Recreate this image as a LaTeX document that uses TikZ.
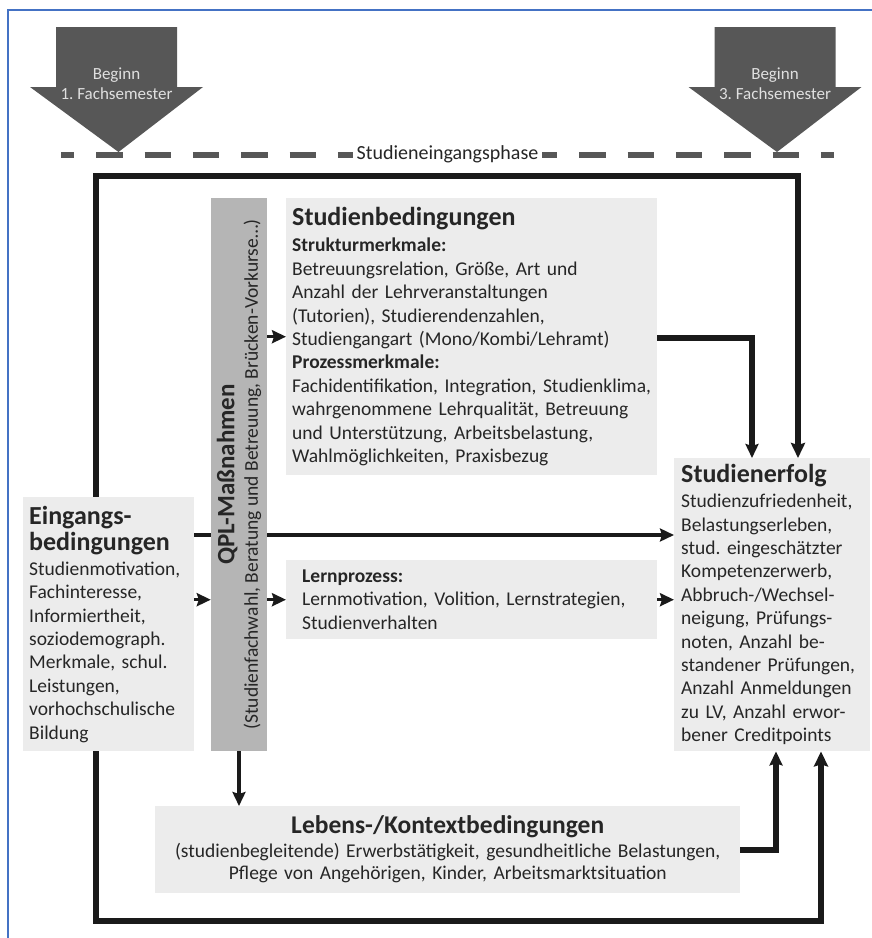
\documentclass[tikz,border=0pt]{standalone}
\usepackage{fontspec}
\setmainfont{Carlito}
\usepackage{tikz}
\usetikzlibrary{arrows.meta, backgrounds}

\definecolor{feldgrau}{HTML}{ECECEC}
\definecolor{qplgrau}{HTML}{B5B5B5}
\definecolor{dunkel}{HTML}{575757}
\definecolor{linie}{HTML}{1A1A1A}
\definecolor{schrift}{HTML}{262626}
\definecolor{rand}{HTML}{4472C4}

\newcommand{\titel}{\fontsize{26}{26}\selectfont\bfseries}
\newcommand{\fliess}{\fontsize{19.5}{23.4}\selectfont\hyphenpenalty=10000}
\frenchspacing

\begin{document}
\begin{tikzpicture}[x=1pt, y=-1pt,
    feld/.style={fill=feldgrau, text=schrift, anchor=north west, align=left, inner ysep=0pt, font=\fliess},
    pfeil/.style={draw=linie, line width=4pt, -{Stealth[length=14pt, width=13pt, inset=2pt]}},
    rahmen/.style={draw=linie, line width=6.5pt, {Stealth[length=15pt, width=14pt, inset=2pt]}-{Stealth[length=15pt, width=14pt, inset=2pt]}}]
\useasboundingbox (0,0) rectangle (872,938);

% screenshot border
\draw[rand, line width=1.5pt] (8,938) -- (8,10) -- (872,10);

% Beginn arrows
\foreach \mx/\sem in {116.5/1, 775/3} {
    \fill[dunkel] (\mx-60.5,27) -- (\mx+60.5,27) -- (\mx+60.5,87) -- (\mx+86.5,87)
        -- (\mx+2,152) -- (\mx-86.5,87) -- (\mx-60.5,87) -- cycle;
    \node[text=white!88!black, align=center, font=\fontsize{17}{20}\selectfont] (beginn\sem) at (\mx,84) {Beginn\\\sem. Fachsemester};
}

% Studieneingangsphase
\draw[dunkel, line width=6pt, dash pattern=on 26.3pt off 22pt, dash phase=13pt] (61,155) -- (834,155);
\node[fill=white, text=schrift, inner xsep=3.5pt, inner ysep=1pt, font=\fontsize{20}{22}\selectfont] (phase) at (447.5,154) {Studieneingangsphase};

% boxes
\node[feld, minimum height=277pt, text width=359pt, inner xsep=6pt] (bed) at (286,198)
    {{\titel Studienbedingungen}\\[2.6pt]
     \textbf{Strukturmerkmale:}\\
     Betreuungsrelation, Größe, Art und\\
     Anzahl der Lehrveranstaltungen\\
     (Tutorien), Studierendenzahlen,\\
     Studiengangart (Mono/Kombi/Lehramt)\\
     \textbf{Prozessmerkmale:}\\
     Fachidentifikation, Integration, Studienklima,\\
     wahrgenommene Lehrqualität, Betreuung\\
     und Unterstützung, Arbeitsbelastung,\\
     Wahlmöglichkeiten, Praxisbezug};
\node[feld, minimum height=79pt, text width=339pt, inner xsep=16pt] (lern) at (286,560)
    {\textbf{Lernprozess:}\\
     Lernmotivation, Volition, Lernstrategien,\\
     Studienverhalten};
\node[feld, minimum height=254pt, text width=159pt, inner xsep=6pt] (eing) at (23,497)
    {{\titel Eingangs-}\\[2.6pt]
     {\titel bedingungen}\\[1.6pt]
     Studienmotivation,\\
     Fachinteresse,\\
     Informiertheit,\\
     soziodemograph.\\
     Merkmale, schul.\\
     Leistungen,\\
     vorhochschulische\\
     Bildung};
\node[feld, minimum height=293pt, text width=182pt, inner xsep=7pt] (erfolg) at (674,458)
    {{\titel Studienerfolg}\\[1.6pt]
     Studienzufriedenheit,\\
     Belastungserleben,\\
     stud. eingeschätzter\\
     Kompetenzerwerb,\\
     Abbruch-/Wechsel-\\
     neigung, Prüfungs-\\
     noten, Anzahl be-\\
     standener Prüfungen,\\
     Anzahl Anmeldungen\\
     zu LV, Anzahl erwor-\\
     bener Creditpoints};
\node[feld, minimum height=87pt, text width=575pt, inner xsep=5pt, align=center,
      font=\fontsize{19.5}{22}\selectfont] (lebens) at (155,806)
    {{\fontsize{25.5}{26}\selectfont\bfseries Lebens-/Kontextbedingungen}\\[2pt]
     (studienbegleitende) Erwerbstätigkeit, gesundheitliche Belastungen,\\
     Pflege von Angehörigen, Kinder, Arbeitsmarktsituation};
\node[fill=qplgrau, text=schrift, rotate=90, align=center, minimum width=553pt, minimum height=56pt,
      inner sep=0pt, font=\fliess] (qpl) at (239,474.5)
    {{\fontsize{25}{26}\selectfont\bfseries QPL-Maßnahmen}\\
     (Studienfachwahl, Beratung und Betreuung, Brücken-Vorkurse…)};

% frame around everything
\coordinate (ecke) at (96,176);
\coordinate (unten) at (96,921);
\begin{scope}[on background layer]
\draw[rahmen] ([xshift=124pt]erfolg.north west) |- (ecke) -- (unten) -| ([xshift=147pt]erfolg.south west);
\end{scope}

% connectors
\coordinate (mitte) at (0,535);
\draw[draw=linie, line width=4pt] (eing.east |- mitte) -- (qpl.north |- mitte);
\draw[pfeil] (qpl.south |- mitte) -- (erfolg.west |- mitte);
\draw[pfeil, line width=3.5pt] (eing.east |- lern.west) -- (qpl.north |- lern.west);
\draw[pfeil, line width=3.5pt] (qpl.south |- lern.west) -- (lern.west);
\draw[pfeil, line width=3.5pt] (qpl.south |- bed.west) -- (bed.west);
\draw[pfeil, line width=3.5pt] (lern.east) -- (erfolg.west |- lern.east);
\draw[pfeil] (qpl.west) -- (qpl.west |- lebens.north);
\draw[pfeil, line width=5.5pt] (bed.east |- 0,338) -| ([xshift=78pt]erfolg.north west);
\draw[pfeil, line width=6pt] (lebens.east) -| ([xshift=102pt]erfolg.south west);
\end{tikzpicture}
\end{document}
